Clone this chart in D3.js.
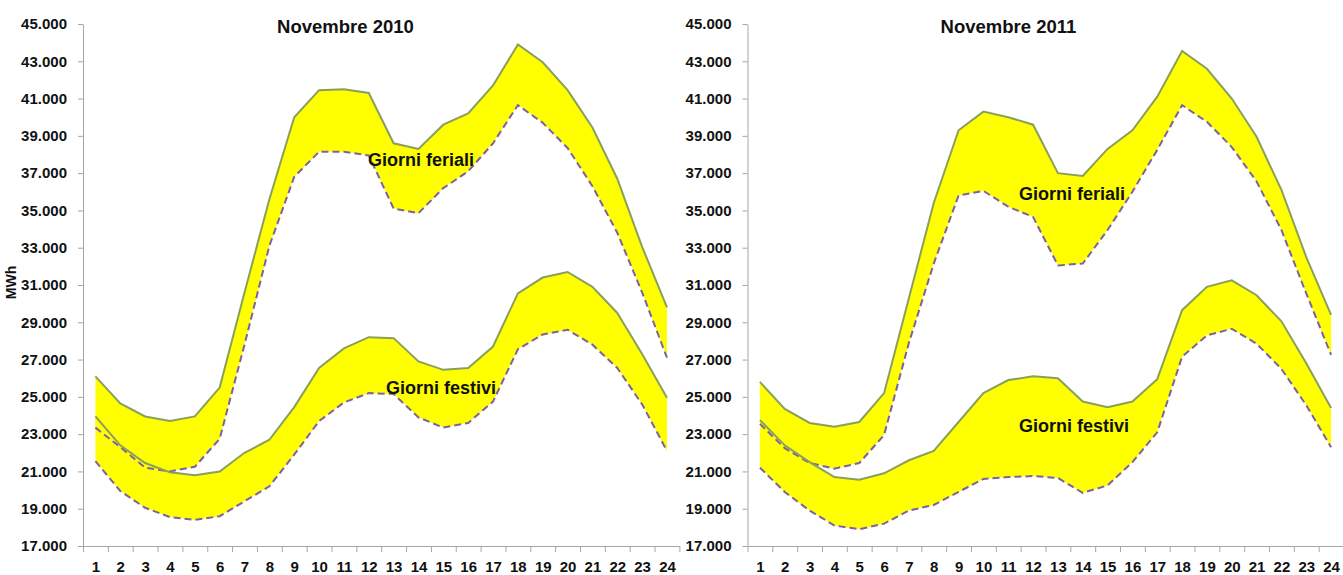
<!DOCTYPE html>
<html>
<head>
<meta charset="utf-8">
<script src="https://cdn.jsdelivr.net/npm/d3@7/dist/d3.min.js"></script>
<style>
  html, body { margin: 0; padding: 0; background: #ffffff; }
  svg { display: block; }
  text { font-family: "Liberation Sans", Arial, sans-serif; font-weight: bold; fill: #111; }
</style>
</head>
<body>
<svg id="chart" width="1343" height="575"></svg>
<script>
// Hours of the day (category axis)
const hours = [1, 2, 3, 4, 5, 6, 7, 8, 9, 10, 11, 12, 13, 14, 15, 16, 17, 18, 19, 20, 21, 22, 23, 24];

// Y axis ticks (MWh)
const yTickValues = [17000, 19000, 21000, 23000, 25000, 27000, 29000, 31000, 33000, 35000, 37000, 39000, 41000, 43000, 45000];

// November 2010 – hourly demand range, working days (max / min)
const ferialiMax2010 = [26100, 24650, 23950, 23700, 23950, 25500, 30600, 35600, 40000, 41450, 41500, 41300, 38600, 38300, 39600, 40200, 41700, 43900, 42950, 41450, 39450, 36700, 33050, 29800];
const ferialiMin2010 = [23350, 22300, 21200, 21000, 21250, 22750, 27800, 33100, 36800, 38150, 38150, 37950, 35100, 34850, 36200, 37100, 38600, 40650, 39700, 38350, 36300, 33800, 30600, 27100];
// November 2010 – holidays (max / min)
const festiviMax2010 = [23950, 22400, 21450, 20950, 20800, 21000, 22000, 22700, 24450, 26550, 27600, 28200, 28150, 26900, 26450, 26550, 27700, 30550, 31400, 31700, 30900, 29500, 27300, 24950];
const festiviMin2010 = [21550, 19950, 19050, 18550, 18400, 18600, 19400, 20200, 21900, 23700, 24700, 25200, 25150, 23900, 23350, 23600, 24750, 27550, 28350, 28600, 27800, 26550, 24600, 22100];

// November 2011 – working days (max / min)
const ferialiMax2011 = [25800, 24350, 23600, 23400, 23650, 25200, 30300, 35400, 39300, 40300, 40000, 39600, 37000, 36850, 38300, 39300, 41100, 43550, 42600, 41000, 38950, 36100, 32500, 29400];
const ferialiMin2011 = [23550, 22250, 21450, 21150, 21450, 22950, 27900, 32150, 35800, 36050, 35200, 34650, 32050, 32150, 33950, 36000, 38250, 40650, 39750, 38400, 36550, 33950, 30550, 27250];
// November 2011 – holidays (max / min)
const festiviMax2011 = [23750, 22400, 21500, 20700, 20550, 20900, 21600, 22100, 23650, 25200, 25900, 26100, 26000, 24750, 24450, 24750, 25950, 29650, 30900, 31250, 30450, 29050, 26800, 24400];
const festiviMin2011 = [21200, 19900, 18900, 18100, 17900, 18200, 18900, 19200, 19900, 20600, 20700, 20750, 20650, 19850, 20250, 21500, 23100, 27150, 28300, 28650, 27850, 26500, 24550, 22300];

const titles = ["Novembre 2010", "Novembre 2011"];
const bandLabels = ["Giorni feriali", "Giorni festivi"];
const yAxisTitle = "MWh";

const itLocale = d3.formatLocale({ decimal: ",", thousands: ".", grouping: [3], currency: ["", " €"] });
const fmt = itLocale.format(",");

const svg = d3.select("#chart");

const panels = [
  {
    left: 83, width: 596.4, title: titles[0], titleX: 345.5,
    bands: [
      { max: ferialiMax2010, min: ferialiMin2010, label: bandLabels[0], lx: 368, ly: 166 },
      { max: festiviMax2010, min: festiviMin2010, label: bandLabels[1], lx: 386, ly: 393.5 }
    ],
    showYTitle: true
  },
  {
    left: 747.5, width: 596, title: titles[1], titleX: 1008.5,
    bands: [
      { max: ferialiMax2011, min: ferialiMin2011, label: bandLabels[0], lx: 1019, ly: 199.5 },
      { max: festiviMax2011, min: festiviMin2011, label: bandLabels[1], lx: 1019, ly: 432 }
    ],
    showYTitle: false
  }
];

const plotTop = 24, plotBottom = 546;

panels.forEach(p => {
  const g = svg.append("g").attr("transform", `translate(${p.left},0)`);

  const x = d3.scaleLinear().domain([0.5, 24.5]).range([0, p.width]);
  const y = d3.scaleLinear().domain([17000, 45000]).range([plotBottom, plotTop]);

  // bands: filled region between max and min
  p.bands.forEach(b => {
    const rows = hours.map((h, i) => ({ h, hi: b.max[i], lo: b.min[i] }));
    g.append("path")
      .datum(rows)
      .attr("fill", "#ffff00")
      .attr("d", d3.area().x(d => x(d.h)).y0(d => y(d.lo)).y1(d => y(d.hi)));
  });

  p.bands.forEach(b => {
    const rows = hours.map((h, i) => ({ h, hi: b.max[i], lo: b.min[i] }));
    g.append("path")
      .datum(rows)
      .attr("fill", "none")
      .attr("stroke", "#7d62a3")
      .attr("stroke-width", 2)
      .attr("stroke-dasharray", "7,4")
      .attr("d", d3.line().x(d => x(d.h)).y(d => y(d.lo)));
    g.append("path")
      .datum(rows)
      .attr("fill", "none")
      .attr("stroke", "#8aa05a")
      .attr("stroke-width", 2)
      .attr("d", d3.line().x(d => x(d.h)).y(d => y(d.hi)));
  });

  // y axis
  const yAxis = g.append("g")
    .call(d3.axisLeft(y).tickValues(yTickValues).tickFormat(fmt).tickSize(5).tickSizeOuter(0).tickPadding(11));
  yAxis.selectAll("text").style("font-size", "15px").attr("fill", "#111");

  // x axis: tick marks on category boundaries
  g.append("g").attr("transform", `translate(0,${plotBottom})`)
    .call(d3.axisBottom(x).tickValues(hours.map(h => h - 0.5).concat([24.5])).tickFormat("").tickSize(6).tickSizeOuter(0));
  // x axis: hour labels centred in each category
  const xLabels = g.append("g").attr("transform", `translate(0,${plotBottom})`)
    .call(d3.axisBottom(x).tickValues(hours).tickSize(0).tickPadding(15.5));
  xLabels.select(".domain").remove();
  xLabels.selectAll("text").style("font-size", "15px").attr("fill", "#111");

  g.selectAll(".domain, .tick line").attr("stroke", "#a6a6a6").attr("stroke-width", 1);

  // band labels
  p.bands.forEach(b => {
    svg.append("text")
      .attr("x", b.lx).attr("y", b.ly)
      .style("font-size", "18px")
      .text(b.label);
  });

  // title
  svg.append("text")
    .attr("x", p.titleX).attr("y", 32.7)
    .attr("text-anchor", "middle")
    .style("font-size", "18.5px")
    .text(p.title);

  if (p.showYTitle) {
    svg.append("text")
      .attr("transform", "translate(16,282.5) rotate(-90)")
      .attr("text-anchor", "middle")
      .style("font-size", "14px")
      .text(yAxisTitle);
  }
});
</script>
</body>
</html>
